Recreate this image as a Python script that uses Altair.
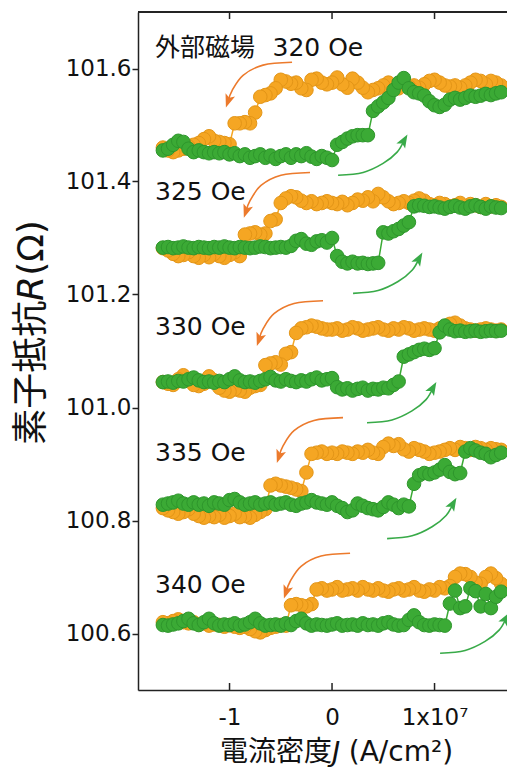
import altair as alt
import pandas as pd

# current density sweep points (units of 1e7 A/cm^2)
J = [-1.65, -1.60, -1.55, -1.50, -1.45, -1.40, -1.35, -1.30, -1.25, -1.20, -1.15, -1.10,
     -1.05, -1.00, -0.95, -0.90, -0.85, -0.80, -0.75, -0.70, -0.65, -0.60, -0.55, -0.50,
     -0.45, -0.40, -0.35, -0.30, -0.25, -0.20, -0.15, -0.10, -0.05, 0.00, 0.05, 0.10,
     0.15, 0.20, 0.25, 0.30, 0.35, 0.40, 0.45, 0.50, 0.55, 0.60, 0.65, 0.70, 0.75, 0.80,
     0.85, 0.90, 0.95, 1.00, 1.05, 1.10, 1.15, 1.20, 1.25, 1.30, 1.35, 1.40, 1.45, 1.50,
     1.55, 1.60, 1.65]

FIELDS = ["320", "325", "330", "335", "340"]

# orange: sweep from +J to -J ; green: sweep from -J to +J
orange_320 = [101.460, 101.455, 101.452, 101.455, 101.458, 101.462, 101.465, 101.468, 101.475, 101.480,
              101.472, 101.470, 101.468, 101.466,
              101.503, 101.503, 101.505, 101.503, 101.522, 101.550, 101.553, 101.556,
              101.565, 101.580, 101.577, 101.573, 101.575, 101.565, 101.562, 101.580, 101.582, 101.575, 101.572,
              101.575, 101.584, 101.572, 101.566, 101.582, 101.575, 101.566, 101.558, 101.562, 101.565, 101.570,
              101.575, 101.570, 101.565, 101.572, 101.568, 101.570, 101.566, 101.572, 101.578, 101.580,
              101.575, 101.570, 101.568, 101.570, 101.566, 101.570, 101.575, 101.580, 101.578, 101.572,
              101.578, 101.575, 101.570]
green_320 = [101.455, 101.458, 101.465, 101.472, 101.470, 101.458, 101.452, 101.455, 101.452, 101.450,
             101.452, 101.450, 101.452, 101.448, 101.450, 101.445, 101.448, 101.442, 101.445, 101.448,
             101.442, 101.446, 101.440, 101.445, 101.448, 101.442, 101.448, 101.445, 101.450, 101.444,
             101.440, 101.445, 101.442, 101.438,
             101.465, 101.470, 101.476, 101.480, 101.482, 101.482,
             101.482, 101.525, 101.533, 101.540, 101.548, 101.562, 101.575, 101.583, 101.565, 101.558,
             101.556, 101.552, 101.542, 101.535, 101.532, 101.536, 101.545, 101.548, 101.545, 101.548,
             101.552, 101.550, 101.552, 101.555, 101.553, 101.556, 101.558]

orange_325 = [101.282, 101.278, 101.272, 101.268, 101.270, 101.275, 101.268, 101.265, 101.270, 101.266,
              101.272, 101.268, 101.265, 101.270, 101.275, 101.268,
              101.306, 101.308, 101.310, 101.306, 101.308, 101.330, 101.333,
              101.362, 101.370, 101.374, 101.372, 101.366, 101.362, 101.365, 101.360, 101.362, 101.365,
              101.362, 101.360, 101.364, 101.358, 101.362, 101.368, 101.366, 101.372, 101.365, 101.378,
              101.372, 101.365, 101.360, 101.362, 101.365, 101.362, 101.366, 101.370, 101.366, 101.360,
              101.358, 101.362, 101.360, 101.356, 101.358, 101.362, 101.356, 101.360, 101.358, 101.355,
              101.360, 101.356, 101.358, 101.355]
green_325 = [101.283, 101.284, 101.282, 101.283, 101.285, 101.283, 101.282, 101.284, 101.283, 101.282,
             101.284, 101.283, 101.285, 101.283, 101.282, 101.284, 101.283, 101.282, 101.283, 101.285,
             101.284, 101.282, 101.283, 101.284, 101.283,
             101.286, 101.295, 101.298, 101.290, 101.288, 101.294, 101.296, 101.292, 101.300,
             101.268, 101.258, 101.255, 101.258, 101.255, 101.256, 101.254, 101.255, 101.256,
             101.310, 101.308, 101.312, 101.316, 101.322, 101.328,
             101.356, 101.358, 101.357, 101.355, 101.356, 101.354, 101.352, 101.355, 101.357, 101.354,
             101.352, 101.356, 101.358, 101.355, 101.352, 101.356, 101.354, 101.353]

orange_330 = [101.045, 101.042, 101.040, 101.050, 101.057, 101.050, 101.040, 101.038, 101.042, 101.055,
              101.048, 101.035, 101.030, 101.028, 101.032, 101.030, 101.028, 101.035, 101.038, 101.040,
              101.075, 101.078, 101.080, 101.076, 101.095, 101.098,
              101.132, 101.140, 101.142, 101.145, 101.143, 101.140, 101.138,
              101.138, 101.140, 101.136, 101.138, 101.142, 101.140, 101.136, 101.138, 101.140, 101.142,
              101.138, 101.136, 101.140, 101.138, 101.142, 101.140, 101.136, 101.138, 101.140, 101.138,
              101.136, 101.140, 101.142, 101.148, 101.150, 101.145, 101.140, 101.138, 101.136, 101.138,
              101.140, 101.138, 101.136, 101.138]
green_330 = [101.045, 101.046, 101.044, 101.047, 101.046, 101.050, 101.053, 101.048, 101.045, 101.046,
             101.044, 101.047, 101.045, 101.050, 101.055, 101.048, 101.045, 101.046, 101.044, 101.047,
             101.050, 101.054, 101.048, 101.046, 101.050, 101.047, 101.045, 101.048, 101.046, 101.050,
             101.053, 101.048, 101.050,
             101.052, 101.036, 101.032, 101.034, 101.030, 101.033, 101.035, 101.030, 101.033, 101.032,
             101.035, 101.034, 101.040, 101.046,
             101.090, 101.094, 101.098, 101.102, 101.104, 101.102, 101.105,
             101.133, 101.145, 101.138, 101.135, 101.136, 101.134, 101.135, 101.136, 101.134, 101.135,
             101.136, 101.135, 101.136]

orange_335 = [100.822, 100.818, 100.815, 100.812, 100.815, 100.820, 100.812, 100.808, 100.805, 100.808,
              100.806, 100.810, 100.805, 100.808, 100.812, 100.806, 100.808, 100.805, 100.810, 100.815,
              100.820,
              100.862, 100.865, 100.862, 100.860, 100.858, 100.855, 100.852, 100.885,
              100.918, 100.920, 100.922, 100.918, 100.920, 100.918, 100.922, 100.920, 100.918, 100.922,
              100.920, 100.925, 100.920, 100.918, 100.930, 100.936, 100.932, 100.935, 100.926, 100.922,
              100.928, 100.925, 100.922, 100.918, 100.920, 100.922, 100.925, 100.928, 100.925, 100.930,
              100.928, 100.925, 100.930, 100.928, 100.925, 100.928, 100.926, 100.925]
green_335 = [100.828, 100.830, 100.832, 100.835, 100.830, 100.828, 100.832, 100.828, 100.830, 100.826,
             100.832, 100.830, 100.828, 100.836, 100.838, 100.832, 100.828, 100.830, 100.832, 100.828,
             100.830, 100.832, 100.828, 100.830, 100.832, 100.828, 100.826, 100.830, 100.832, 100.836,
             100.832, 100.830, 100.828, 100.832, 100.826, 100.822, 100.815, 100.818, 100.830, 100.826,
             100.822, 100.820, 100.818, 100.824, 100.832, 100.828, 100.822, 100.828, 100.825,
             100.865, 100.880, 100.884, 100.882, 100.885, 100.890, 100.898, 100.886, 100.882, 100.884,
             100.922, 100.928, 100.924, 100.920, 100.918, 100.912, 100.916, 100.920]

orange_340 = [100.620, 100.618, 100.622, 100.625, 100.620, 100.618, 100.620, 100.616, 100.618, 100.614,
              100.616, 100.615, 100.612, 100.615, 100.612, 100.610, 100.612, 100.608, 100.604, 100.602,
              100.606, 100.610, 100.612, 100.615, 100.614,
              100.650, 100.652, 100.650, 100.648, 100.652,
              100.678, 100.680, 100.676, 100.678, 100.682, 100.676, 100.678, 100.680, 100.676, 100.682,
              100.678, 100.676, 100.680, 100.676, 100.674, 100.678, 100.680, 100.676, 100.678, 100.682,
              100.676, 100.674, 100.678, 100.676, 100.682, 100.680,
              100.684, 100.700, 100.706, 100.705, 100.700, 100.690, 100.688, 100.700, 100.706, 100.698,
              100.688]
green_340 = [100.615, 100.614, 100.616, 100.618, 100.622, 100.626, 100.618, 100.615, 100.620, 100.626,
             100.618, 100.614, 100.616, 100.615, 100.618, 100.614, 100.616, 100.620, 100.626, 100.618,
             100.614, 100.615, 100.616, 100.614, 100.618, 100.615, 100.622, 100.626, 100.618, 100.614,
             100.616, 100.615, 100.614, 100.616, 100.618, 100.614, 100.615, 100.616, 100.614, 100.618,
             100.615, 100.616, 100.614, 100.618, 100.620, 100.616, 100.614, 100.615, 100.624, 100.632,
             100.620, 100.615, 100.614, 100.616, 100.615, 100.614,
             100.653, 100.676, 100.645, 100.648, 100.680, 100.675, 100.648, 100.670, 100.645, 100.665,
             100.674]

ORANGE = dict(zip(FIELDS, [orange_320, orange_325, orange_330, orange_335, orange_340]))
GREEN = dict(zip(FIELDS, [green_320, green_325, green_330, green_335, green_340]))

# field labels
LABELS = ["外部磁場\u2002\u2009320 Oe", "325 Oe", "330 Oe", "335 Oe", "340 Oe"]
LABEL_J = [-1.727, -1.727, -1.727, -1.727, -1.727]
LABEL_R = [101.637, 101.381, 101.142, 100.920, 100.685]

# curved sweep-direction arrows (J, R path points)
ARROW_O_J = [[-0.390, -0.673, -0.868, -0.975, -1.014],
             [-0.215, -0.498, -0.693, -0.800, -0.839],
             [-0.088, -0.371, -0.566, -0.673, -0.712],
             [0.107, -0.176, -0.371, -0.478, -0.517],
             [0.176, -0.107, -0.302, -0.409, -0.448]]
ARROW_O_R = [[101.611, 101.606, 101.588, 101.561, 101.542],
             [101.416, 101.411, 101.393, 101.366, 101.347],
             [101.189, 101.184, 101.166, 101.139, 101.120],
             [100.982, 100.977, 100.959, 100.932, 100.913],
             [100.742, 100.737, 100.719, 100.692, 100.673]]
ARROW_G_J = [[0.059, 0.303, 0.498, 0.635, 0.703],
             [0.205, 0.449, 0.644, 0.781, 0.849],
             [0.341, 0.585, 0.780, 0.917, 0.985],
             [0.537, 0.781, 0.976, 1.113, 1.181],
             [1.054, 1.298, 1.493, 1.630, 1.698]]
ARROW_G_R = [[101.411, 101.416, 101.432, 101.452, 101.473],
             [101.202, 101.207, 101.223, 101.243, 101.264],
             [100.973, 100.978, 100.994, 101.014, 101.035],
             [100.768, 100.773, 100.789, 100.809, 100.830],
             [100.565, 100.570, 100.586, 100.606, 100.627]]

X_TICKS = [-1, 0, 1]
Y_TICKS = [100.6, 100.8, 101.0, 101.2, 101.4, 101.6]

FONT = "DejaVu Sans, Noto Sans CJK JP"
ORANGE_FILL, ORANGE_EDGE, ORANGE_ARROW = "#F5A623", "#E39517", "#EC7A2C"
GREEN_FILL, GREEN_EDGE, GREEN_ARROW = "#3BAA35", "#2E962C", "#38AA48"

W, H = 369, 678

rows = []
for f in FIELDS:
    for sweep, d in (("down", ORANGE), ("up", GREEN)):
        vals = d[f]
        assert len(vals) == len(J), (f, sweep, len(vals))
        n = len(J)
        for i, (j, r) in enumerate(zip(J, vals)):
            rows.append(dict(field=f, sweep=sweep, J=j, R=r, k=(n - 1 - i) if sweep == "down" else i))
df = pd.DataFrame(rows)

arows = []
for color, AJ, AR in (("o", ARROW_O_J, ARROW_O_R), ("g", ARROW_G_J, ARROW_G_R)):
    for a, (jj, rr) in enumerate(zip(AJ, AR)):
        for k, (j, r) in enumerate(zip(jj, rr)):
            arows.append(dict(c=color, a=a, k=k, J=j, R=r, last=(k == len(jj) - 1)))
adf = pd.DataFrame(arows)

lab = pd.DataFrame(dict(t=LABELS, J=LABEL_J, R=LABEL_R))
tick_df = pd.DataFrame(dict(J=X_TICKS))

xs = alt.Scale(domain=[-1.893, 1.707], nice=False, zero=False)
ys = alt.Scale(domain=[100.5, 101.7], nice=False, zero=False)

x_axis = alt.Axis(values=X_TICKS, ticks=False, grid=False, domainColor="#222", domainWidth=1.5,
                  labelExpr="datum.value == 1 ? '1x10\u2077' : (datum.value == 0 ? '0' : '-1')",
                  labelFont=FONT, labelFontSize=23, labelColor="#111", labelPadding=16,
                  title="電流密度𝘑 (A/cm²)", titleFont=FONT, titleFontSize=28, titleFontWeight="normal",
                  titleColor="#111", titleX=198, titleY=62, titleBaseline="middle", titleAlign="center")
y_axis = alt.Axis(values=Y_TICKS, format=".1f", grid=False, tickSize=6, tickWidth=1.5, tickColor="#222",
                  domainColor="#222", domainWidth=1.5,
                  labelFont=FONT, labelFontSize=23, labelColor="#111", labelPadding=1,
                  title="素子抵抗𝘙(Ω)", titleFont=FONT, titleFontSize=36, titleFontWeight="normal",
                  titleColor="#111", titleX=-107, titleY=320, titleAngle=-90, titleBaseline="middle",
                  titleAlign="center")

X = alt.X("J:Q", scale=xs, axis=x_axis)
Y = alt.Y("R:Q", scale=ys, axis=y_axis)


def series(sweep, fill, edge):
    d = alt.Chart(df).transform_filter(alt.datum.sweep == sweep)
    line = d.mark_line(color=fill, strokeWidth=1.5).encode(x=X, y=Y, detail="field:N", order="k:Q")
    pts = d.mark_circle(size=185, opacity=1, color=fill, stroke=edge, strokeWidth=1).encode(
        x=X, y=Y, order="k:Q")
    return line + pts


def arrows(c, col, angle):
    d = alt.Chart(adf).transform_filter(alt.datum.c == c)
    ln = d.mark_line(color=col, strokeWidth=1.6, interpolate="cardinal").encode(
        x=X, y=Y, detail="a:N", order="k:Q")
    hd = d.transform_filter(alt.datum.last).mark_point(
        shape="M0,-1L0.75,1L0,0.55L-0.75,1Z", filled=True, size=180, color=col, opacity=1,
        angle=angle).encode(x=X, y=Y)
    return ln + hd


orange = series("down", ORANGE_FILL, ORANGE_EDGE)
green = series("up", GREEN_FILL, GREEN_EDGE)

texts = alt.Chart(lab).mark_text(align="left", baseline="middle", font=FONT, fontSize=25,
                                 color="#111").encode(x=X, y=Y, text="t:N")

top_line = alt.Chart(tick_df).mark_rule(color="#222", strokeWidth=1.5).encode(
    x=alt.value(0), x2=alt.value(W), y=alt.value(0))
ticks_bottom = alt.Chart(tick_df).mark_rule(color="#222", strokeWidth=1.5).encode(
    x=X, y=alt.value(H), y2=alt.value(H - 7))
ticks_top = alt.Chart(tick_df).mark_rule(color="#222", strokeWidth=1.5).encode(
    x=X, y=alt.value(0), y2=alt.value(7))

chart = alt.layer(
    orange, green, arrows("o", ORANGE_ARROW, 199), arrows("g", GREEN_ARROW, 30),
    texts, top_line, ticks_bottom, ticks_top
).properties(
    width=W, height=H,
    autosize=alt.AutoSizeParams(type="none"),
    padding={"left": 130, "top": 4, "right": 0, "bottom": 78},
).configure_view(stroke=None).configure(background="white")

chart.save("out.html", embed_options={"renderer": "svg", "actions": False})
